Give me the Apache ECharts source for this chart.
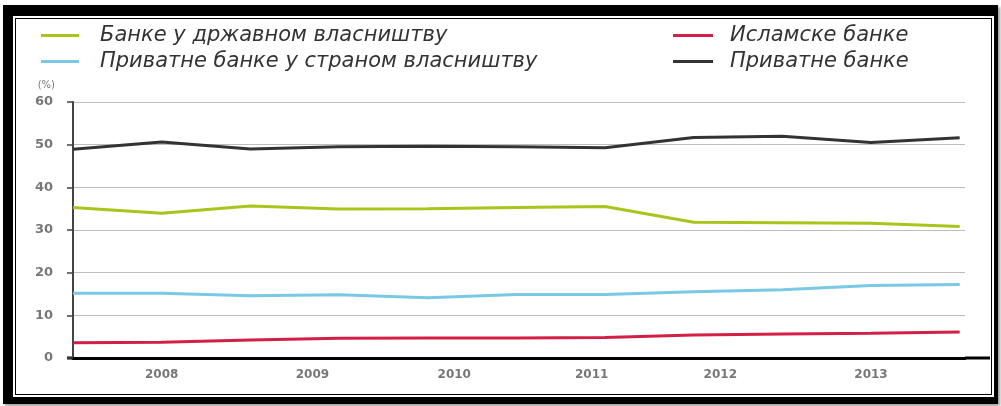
<!DOCTYPE html>
<html>
<head>
<meta charset="utf-8">
<script src="https://cdn.jsdelivr.net/npm/echarts@6/dist/echarts.min.js"></script>
<style>
  html, body { margin: 0; padding: 0; background: #fff; }
  #frame { position: absolute; left: 3px; top: 5px; width: 995px; height: 399px; background: #000; box-shadow: 2px 2px 3px #999; }
  #inner { position: absolute; left: 10px; top: 11px; right: 4px; bottom: 7px; background: #fff; }
  #line { position: absolute; left: 2px; top: 2px; right: 2px; bottom: 2px; border: 1.5px solid #000; }
  #chart { position: absolute; left: 0; top: 0; width: 1001px; height: 406px; }
</style>
</head>
<body>
<div id="frame"><div id="inner"><div id="line"></div></div></div>
<div id="chart"></div>
<script>
// Data (semi-annual observations, index 0..10)
const seriesNames = ['Банке у државном власништву', 'Приватне банке у страном власништву', 'Исламске банке', 'Приватне банке'];
const stateOwned   = [35.3, 33.9, 35.6, 34.9, 35.0, 35.3, 35.5, 31.8, 31.7, 31.6, 30.8];
const foreignPriv  = [15.2, 15.2, 14.6, 14.8, 14.1, 14.9, 14.9, 15.5, 16.0, 17.0, 17.2];
const islamic      = [3.6, 3.7, 4.2, 4.6, 4.7, 4.7, 4.8, 5.4, 5.6, 5.8, 6.1];
const privateBanks = [48.9, 50.6, 49.0, 49.5, 49.6, 49.5, 49.3, 51.7, 52.0, 50.5, 51.6];
const yearLabels   = ['2008', '2009', '2010', '2011', '2012', '2013'];
const yearTickPos  = [1, 2.7, 4.3, 5.85, 7.3, 9];
const yTicks       = [0, 10, 20, 30, 40, 50, 60];

const colors = { green: '#aac41c', blue: '#78c8e6', red: '#d31f45', black: '#333333' };

function toPairs(arr) { return arr.map((v, i) => [i, v]); }

const chart = echarts.init(document.getElementById('chart'), null, { renderer: 'canvas' });
const legendText = { fontFamily: 'DejaVu Sans', fontStyle: 'italic', fontSize: 21, color: '#333', padding: [0, 0, 0, 16] };

chart.setOption({
  animation: false,
  backgroundColor: 'transparent',
  legend: [
    { data: [seriesNames[0], seriesNames[1]], orient: 'vertical', left: 36, top: 20, itemGap: 5,
      icon: 'rect', itemWidth: 38, itemHeight: 3, textStyle: legendText },
    { data: [seriesNames[2], seriesNames[3]], orient: 'vertical', left: 668, top: 20, itemGap: 5,
      icon: 'rect', itemWidth: 40, itemHeight: 3, textStyle: Object.assign({}, legendText, { padding: [0, 0, 0, 12] }) }
  ],
  grid: { left: 73, top: 102, right: 36, bottom: 48, containLabel: false },
  xAxis: {
    type: 'value', min: 0, max: 10.06,
    axisLine: { show: true, lineStyle: { color: '#000', width: 3 } },
    axisTick: { show: false },
    splitLine: { show: false },
    axisLabel: {
      customValues: yearTickPos,
      formatter: function (v) {
        const i = yearTickPos.findIndex(p => Math.abs(p - v) < 1e-6);
        return i >= 0 ? yearLabels[i] : '';
      },
      color: '#777', fontFamily: 'DejaVu Sans', fontWeight: 'bold', fontSize: 12, margin: 11
    }
  },
  yAxis: {
    type: 'value', min: yTicks[0], max: yTicks[yTicks.length - 1], interval: 10,
    name: '(%)', nameLocation: 'end', nameGap: 12,
    nameTextStyle: { color: '#777', fontFamily: 'DejaVu Sans', fontSize: 10, align: 'right', padding: [0, 18, 0, 0] },
    axisLine: { show: true, lineStyle: { color: '#444', width: 2 } },
    axisTick: { show: true, length: 6, lineStyle: { color: '#444', width: 1.5 } },
    splitLine: { show: true, lineStyle: { color: '#bdbdbd', width: 1 } },
    axisLabel: { color: '#777', fontFamily: 'DejaVu Sans', fontWeight: 'bold', fontSize: 13, margin: 20 }
  },
  series: [
    { name: seriesNames[0], type: 'line', data: toPairs(stateOwned), showSymbol: false, color: colors.green, lineStyle: { width: 3, color: colors.green } },
    { name: seriesNames[2], type: 'line', data: toPairs(islamic), showSymbol: false, color: colors.red, lineStyle: { width: 3, color: colors.red } },
    { name: seriesNames[1], type: 'line', data: toPairs(foreignPriv), showSymbol: false, color: colors.blue, lineStyle: { width: 3, color: colors.blue } },
    { name: seriesNames[3], type: 'line', data: toPairs(privateBanks), showSymbol: false, color: colors.black, lineStyle: { width: 3, color: colors.black } }
  ],
  graphic: [
    { type: 'line', shape: { x1: 965, y1: 358, x2: 990, y2: 358 }, style: { stroke: '#000', lineWidth: 3 }, silent: true },
    { type: 'line', shape: { x1: 67, y1: 358, x2: 73, y2: 358 }, style: { stroke: '#000', lineWidth: 3 }, silent: true }
  ]
});
</script>
</body>
</html>
